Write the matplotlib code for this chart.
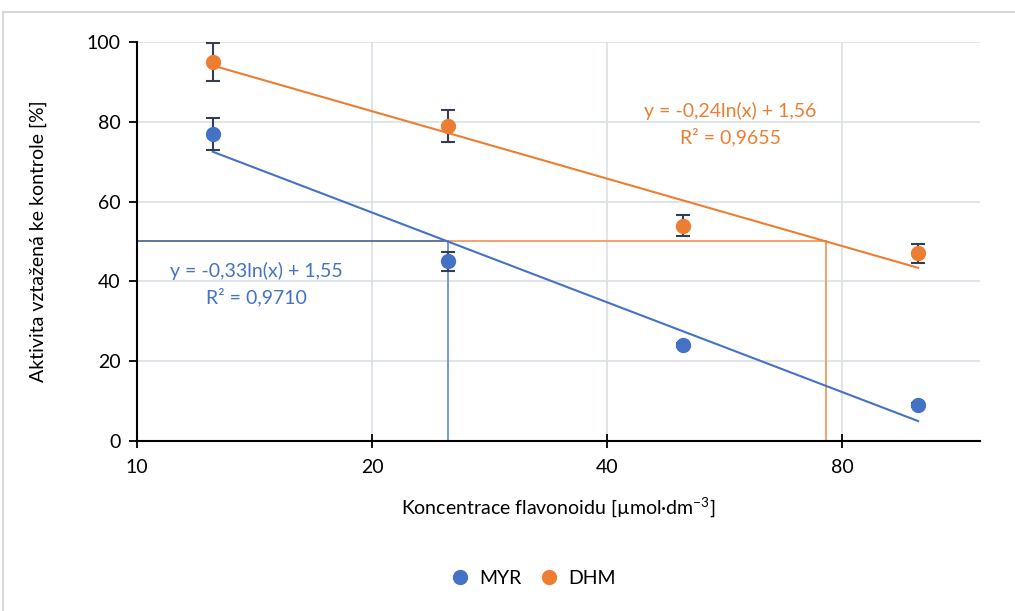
import numpy as np
import matplotlib.pyplot as plt
from matplotlib.ticker import FixedLocator, NullLocator
from matplotlib.lines import Line2D

plt.rcParams['font.family'] = ['Lato', 'DejaVu Sans']

# Data
conc = [12.5, 25, 50, 100]
myr = [77, 45, 24, 9]
myr_err = [4.0, 2.3, 0.5, 0.5]
dhm = [95, 79, 54, 47]
dhm_err = [4.7, 4.0, 2.7, 2.4]
xticks = [10, 20, 40, 80]
yticks = [0, 20, 40, 60, 80, 100]
myr_eq = 'y = -0,33ln(x) + 1,55\nR² = 0,9710'
dhm_eq = 'y = -0,24ln(x) + 1,56\nR² = 0,9655'

blue = '#4472C4'
orange = '#ED7D31'
errc = '#333F50'

fig = plt.figure(figsize=(10.15, 6.11), dpi=100)
ax = fig.add_axes([0.135, 0.2782, 0.8305, 0.6531])

# logarithmic trend lines fitted to the data
lx = np.log(conc)
xs = np.linspace(conc[0], conc[-1], 200)
k_m, q_m = np.polyfit(lx, myr, 1)
k_d, q_d = np.polyfit(lx, dhm, 1)
ax.plot(xs, k_m * np.log(xs) + q_m, color=blue, lw=1.5, zorder=3)
ax.plot(xs, k_d * np.log(xs) + q_d, color=orange, lw=1.5, zorder=3)

# IC50 guide lines
ic_m = np.exp((50 - q_m) / k_m)
ic_d = np.exp((50 - q_d) / k_d)
ax.plot([10, ic_m], [50, 50], color='#5A6899', lw=1.3, zorder=2)
ax.plot([ic_m, ic_d], [50, 50], color='#F29B5F', lw=1.3, zorder=2)
ax.plot([ic_m, ic_m], [0, 50], color='#6B8FD4', lw=1.3, zorder=2)
ax.plot([ic_d, ic_d], [0, 50], color='#F29B5F', lw=1.3, zorder=2)

# points with error bars
ax.errorbar(conc, myr, yerr=myr_err, fmt='o', color=blue, ms=10,
            ecolor=errc, elinewidth=1.5, capsize=5, capthick=1.5, zorder=4)
ax.errorbar(conc, dhm, yerr=dhm_err, fmt='o', color=orange, ms=10,
            ecolor=errc, elinewidth=1.5, capsize=5, capthick=1.5, zorder=4)

ax.text(14.2, 39.2, myr_eq, color=blue, fontsize=14, ha='center', va='center',
        linespacing=1.5)
ax.text(57.5, 79.4, dhm_eq, color=orange, fontsize=14, ha='center', va='center',
        linespacing=1.5)

ax.set_xscale('log', base=2)
ax.set_xlim(10, 120)
ax.set_ylim(0, 100)
ax.xaxis.set_major_locator(FixedLocator(xticks))
ax.xaxis.set_minor_locator(NullLocator())
ax.set_xticklabels([str(t) for t in xticks])
ax.set_yticks(yticks)
ax.tick_params(axis='both', labelsize=14, colors='black', length=6, width=1.3)
ax.tick_params(axis='x', direction='inout', pad=8, length=10)
ax.tick_params(axis='y', pad=6)
ax.grid(True, color='#DDE3EB', lw=1.3)
ax.set_axisbelow(True)
for s in ['top', 'right']:
    ax.spines[s].set_visible(False)
ax.spines['left'].set_linewidth(1.5)
ax.spines['bottom'].set_linewidth(1.5)

ax.set_xlabel('Koncentrace flavonoidu [µmol·dm$^{\\mathregular{-3}}$]', fontsize=14, labelpad=14)
ax.set_ylabel('Aktivita vztažená ke kontrole [%]', fontsize=14, labelpad=28)

handles = [Line2D([], [], marker='o', ls='', color=blue, ms=10, label='MYR'),
           Line2D([], [], marker='o', ls='', color=orange, ms=10, label='DHM')]
fig.legend(handles=handles, loc='center', bbox_to_anchor=(0.52, 0.053), ncol=2,
           frameon=False, fontsize=14, handletextpad=0.0, columnspacing=0.4)

# light outer chart frame
fig.add_artist(Line2D([0.003, 1], [1 - 12 / 611, 1 - 12 / 611], color='#D9D9D9', lw=1.5))
fig.add_artist(Line2D([0.003, 0.003], [0, 1 - 12 / 611], color='#D9D9D9', lw=1.5))

fig.savefig('out.png', dpi=100)
